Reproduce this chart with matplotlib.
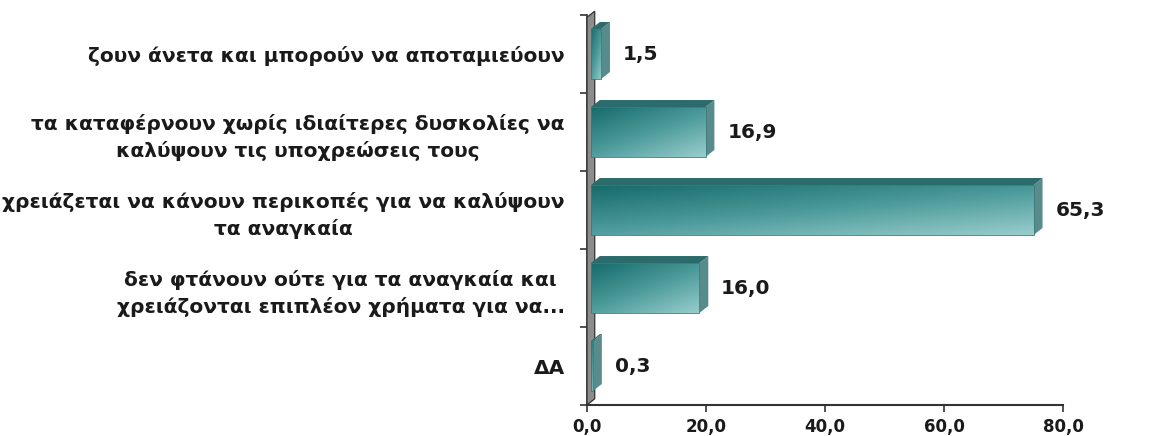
import matplotlib
matplotlib.use("Agg")
import matplotlib.pyplot as plt
import numpy as np
from matplotlib.patches import Rectangle, Polygon
from matplotlib.colors import LinearSegmentedColormap

categories = [
    "ζουν άνετα και μπορούν να αποταμιεύουν",
    "τα καταφέρνουν χωρίς ιδιαίτερες δυσκολίες να\nκαλύψουν τις υποχρεώσεις τους",
    "χρειάζεται να κάνουν περικοπές για να καλύψουν\nτα αναγκαία",
    "δεν φτάνουν ούτε για τα αναγκαία και\nχρειάζονται επιπλέον χρήματα για να...",
    "ΔΑ",
]
values = [1.5, 16.9, 65.3, 16.0, 0.3]
xticks = [0, 20, 40, 60, 80]

W, H = 1154, 436
fig = plt.figure(figsize=(W/100, H/100), dpi=100)
ax = fig.add_axes([587/W, 1-405/H, (1063-587)/W, 390/H])
ax.set_xlim(0, 80)
ax.set_ylim(len(categories)-0.5, -0.5)

# bars are drawn in the "front" plane of the 3D chart, which is slightly magnified
bx = fig.add_axes([591/W, 1-405/H, (1063-587)/W, 390/H], sharey=ax)
bx.set_xlim(0, 80*5.95/6.78)
bx.set_ylim(len(categories)-0.5, -0.5)
bx.axis("off")
bx.patch.set_visible(False)

ny, nx = 64, 256
gy, gx = np.mgrid[0:1:complex(0, ny), 0:1:complex(0, nx)]
g = 0.45*gx + 0.55*gy
cmap = LinearSegmentedColormap.from_list("tealgrad", ["#176b6b", "#4c9a9a", "#98cdcd"])

h = 0.64
dx = 1.3
dy = 0.09
for i, v in enumerate(values):
    y0 = i - h/2
    y1 = i + h/2
    w = max(v, 0.3)
    side = Polygon([[w, y0], [w+dx, y0-dy], [w+dx, y1-dy], [w, y1]],
                   closed=True, facecolor="#588c8c", edgecolor="none", zorder=2, clip_on=False)
    bx.add_patch(side)
    top = Polygon([[0, y0], [dx, y0-dy], [w+dx, y0-dy], [w, y0]],
                  closed=True, facecolor="#2c6b6b", edgecolor="none", zorder=2, clip_on=False)
    bx.add_patch(top)
    im = bx.imshow(g, cmap=cmap, extent=[0, w, y1, y0], aspect="auto",
                   interpolation="bilinear", zorder=3)
    rect = Rectangle((0, y0), w, h, transform=bx.transData, facecolor="none",
                     edgecolor="#3f7a7a", linewidth=0.6, zorder=4)
    bx.add_patch(rect)
    im.set_clip_path(rect)
    bx.text(w + dx + 1.9, i, f"{v:.1f}".replace(".", ","), va="center", ha="left",
            fontsize=14.5, fontweight="bold", color="#1a1a1a", zorder=5)

# back wall
wall = Polygon([[0.0, len(categories)-0.5], [0.0, -0.47], [1.3, -0.55], [1.3, len(categories)-0.58]],
               closed=True, facecolor="#8c8c8c", edgecolor="#333333", linewidth=0.9,
               zorder=3, clip_on=False)
ax.add_patch(wall)

ax.set_yticks(range(len(categories)))
ax.set_yticklabels(categories, fontsize=14.5, fontweight="bold", color="#1a1a1a",
                   multialignment="center", linespacing=1.45)
ax.tick_params(axis="y", length=0, pad=16)
ax.set_yticks(np.arange(-0.5, len(categories), 1.0), minor=True)
ax.tick_params(axis="y", which="minor", length=5, width=1.2, color="#333333")

ax.set_xticks(xticks)
ax.set_xticklabels([f"{t:.1f}".replace(".", ",") for t in xticks], fontsize=12,
                   fontweight="bold", color="#1a1a1a")
ax.tick_params(axis="x", length=5, width=1.2, color="#333333", pad=4)

for s in ["top", "right"]:
    ax.spines[s].set_visible(False)
ax.spines["left"].set_color("#333333")
ax.spines["left"].set_linewidth(1.2)
ax.spines["bottom"].set_color("#333333")
ax.spines["bottom"].set_linewidth(1.5)

fig.savefig("out.png", dpi=100)
